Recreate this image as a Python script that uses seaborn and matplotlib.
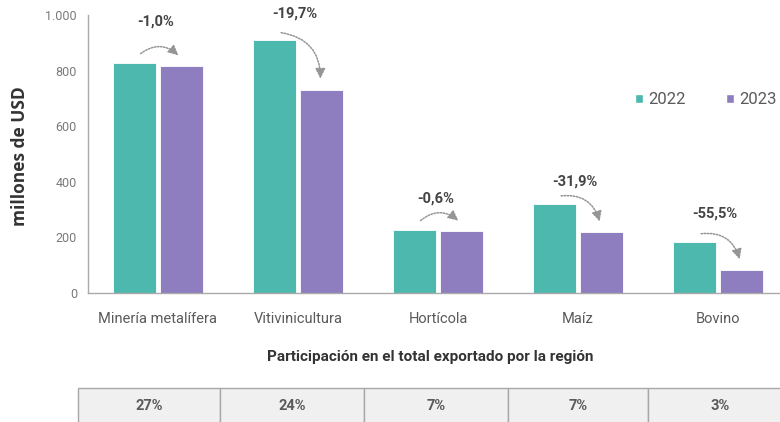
import matplotlib
matplotlib.use("Agg")
import matplotlib.pyplot as plt
import seaborn as sns
import pandas as pd
from matplotlib.patches import Rectangle, Patch

categories = ["Minería metalífera", "Vitivinicultura", "Hortícola", "Maíz", "Bovino"]
years = ["2022", "2023"]
values_2022 = [827, 910, 226, 320, 184]
values_2023 = [818, 731, 224, 218, 82]
changes = ["-1,0%", "-19,7%", "-0,6%", "-31,9%", "-55,5%"]
shares = ["27%", "24%", "7%", "7%", "3%"]
yticks = [0, 200, 400, 600, 800, 1000]
ytick_labels = ["0", "200", "400", "600", "800", "1.000"]

sns.set_theme(style="white")
plt.rcParams["font.family"] = ["Roboto", "DejaVu Sans"]

TEAL = "#4cb8ae"
PURPLE = "#8e7dbf"
GRAY_TXT = "#5a5a5a"

df = pd.DataFrame({
    "cat": categories * 2,
    "year": [years[0]] * len(categories) + [years[1]] * len(categories),
    "val": values_2022 + values_2023,
})

W, H = 780, 422
fig = plt.figure(figsize=(W / 100, H / 100), dpi=100)
ax = fig.add_axes([88 / W, 1 - 293 / H, 1 - 88 / W, (293 - 15) / H])

sns.barplot(data=df, x="cat", y="val", hue="year", palette=[TEAL, PURPLE],
            saturation=1, width=0.66, gap=0.07, edgecolor="white", linewidth=0.6,
            ax=ax, legend=True)

ax.set_ylim(0, 1000)
ax.set_xlim(-0.5, -0.5 + (W - 88) / 140)
ax.set_yticks(yticks)
ax.set_yticklabels(ytick_labels, color="#7a7a7a", fontsize=9)
ax.set_xticks(range(len(categories)))
ax.set_xticklabels(categories, color=GRAY_TXT, fontsize=10.5)
ax.set_xticks([i + 0.5 for i in range(len(categories) - 1)], minor=True)
ax.tick_params(axis="x", which="major", length=0, pad=14)
ax.tick_params(axis="x", which="minor", length=3, color="#aaaaaa", width=0.8)
ax.tick_params(axis="y", length=4, color="#aaaaaa", width=0.8, pad=4)
ax.set_xlabel("")
ax.set_ylabel("millones de USD", fontsize=12.5, fontweight="bold", color="#333333",
              family=["Open Sans", "DejaVu Sans"])
ax.yaxis.set_label_coords((29 - 88) / (W - 88), 1 - (156 - 15) / 278)
for s in ["top", "right"]:
    ax.spines[s].set_visible(False)
for s in ["left", "bottom"]:
    ax.spines[s].set_color("#aaaaaa")
    ax.spines[s].set_linewidth(1.0)

# legend
handles = [Patch(facecolor=TEAL), Patch(facecolor=PURPLE)]
ax.legend(handles, years, ncol=2, frameon=False, loc="center left",
          bbox_to_anchor=((620 - 88) / (W - 88), 1 - (100 - 15) / 278),
          handlelength=0.5, handleheight=0.5, handletextpad=0.3,
          columnspacing=2.4, fontsize=12, labelcolor=GRAY_TXT)

# change annotations with curved dotted arrows
label_offsets = [150, 95, 115, 80, 100]
for i, (a, b, lab) in enumerate(zip(values_2022, values_2023, changes)):
    top = max(a, b)
    ax.annotate("", xy=(i + 0.16, b + 30), xytext=(i - 0.14, a + 28),
                arrowprops=dict(arrowstyle="-|>,head_length=0.5,head_width=0.25",
                                color="#959595", linestyle=(0, (1, 1)), lw=1.1,
                                connectionstyle="arc3,rad=-0.45"))
    ax.text(i - 0.02, top + label_offsets[i], lab, ha="center", va="center",
            fontsize=10.5, fontweight="bold", color="#444444")

# table title
fig.text(430 / W, 1 - 357 / H, "Participación en el total exportado por la región",
         ha="center", va="center", fontsize=11, fontweight="bold", color="#333333")

# share table
tax = fig.add_axes([78 / W, 0, 1 - 78 / W, (422 - 387) / H])
tax.set_xlim(78, W)
tax.set_ylim(422, 387)
tax.axis("off")
edges = [78, 220, 364, 508, 648, 792]
for j, s in enumerate(shares):
    tax.add_patch(Rectangle((edges[j], 387.5), edges[j + 1] - edges[j], 40,
                            facecolor="#f0f0f0", edgecolor="#a8a8a8", lw=1.0,
                            clip_on=False))
    tax.text((edges[j] + edges[j + 1]) / 2, 406, s, ha="center", va="center",
             fontsize=10.5, color=GRAY_TXT, fontweight="bold")

fig.savefig("out.png", dpi=100)
